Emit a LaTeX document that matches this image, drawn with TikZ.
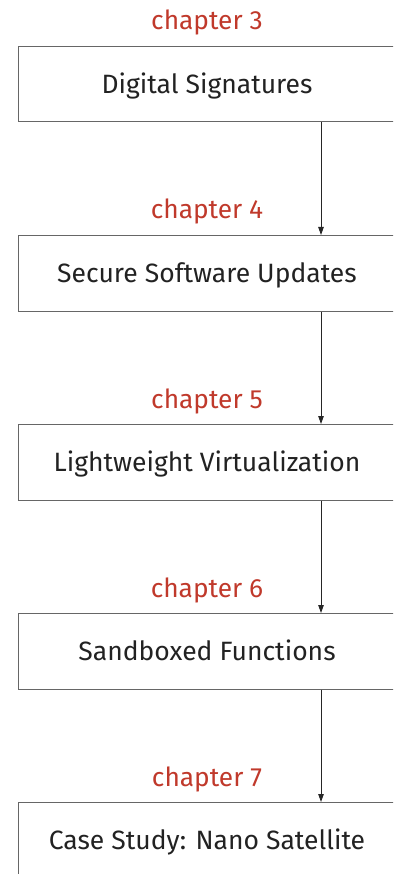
\documentclass[tikz,border=0pt]{standalone}
\usepackage{fontspec}
\setmainfont{Fira Sans}
\usetikzlibrary{arrows.meta,calc}
\definecolor{chapred}{HTML}{C0392B}
\definecolor{boxtext}{HTML}{222222}
\tikzset{
    box/.style={draw=black!60, line width=1pt, minimum width=378pt, minimum height=75.5pt,
      inner sep=0pt, text=boxtext, text height=20pt, text depth=1.5pt,
      font=\fontsize{26.5}{32}\selectfont},
    chap/.style={text=chapred, anchor=base, inner sep=0pt, font=\fontsize{26.3}{32}\selectfont},
    flow/.style={-{Triangle[width=5.5pt,length=8pt]}, line width=0.9pt, black!85},
  }
\begin{document}
\begin{tikzpicture}[x=1pt,y=-1pt]
  \useasboundingbox (0,0) rectangle (393,874);
  \clip (0,0) rectangle (393,874);

  %BOXES
  \node[box] (sig) at (207,84.25) {Digital Signatures};
  \node[box] (upd) at (207,273.25) {Secure Software Updates};
  \node[box] (virt) at (207,462.25) {Lightweight Virtualization};
  \node[box] (sbx) at (207,651.25) {Sandboxed Functions};
  \node[box] (sat) at (207,840.25) {Case Study: Nano Satellite};

  %CHAPTERS
  \node[chap] (ch3) at (207,30) {chapter 3};
  \node[chap] (ch4) at (207,219) {chapter 4};
  \node[chap] (ch5) at (207,408) {chapter 5};
  \node[chap] (ch6) at (207,597) {chapter 6};
  \node[chap] (ch7) at (207,786) {chapter 7};

  %ARROWS
  \coordinate (ax) at (321,0);
  \draw[flow] (sig.south -| ax) -- (upd.north -| ax);
  \draw[flow] (upd.south -| ax) -- (virt.north -| ax);
  \draw[flow] (virt.south -| ax) -- (sbx.north -| ax);
  \draw[flow] (sbx.south -| ax) -- (sat.north -| ax);
\end{tikzpicture}
\end{document}
